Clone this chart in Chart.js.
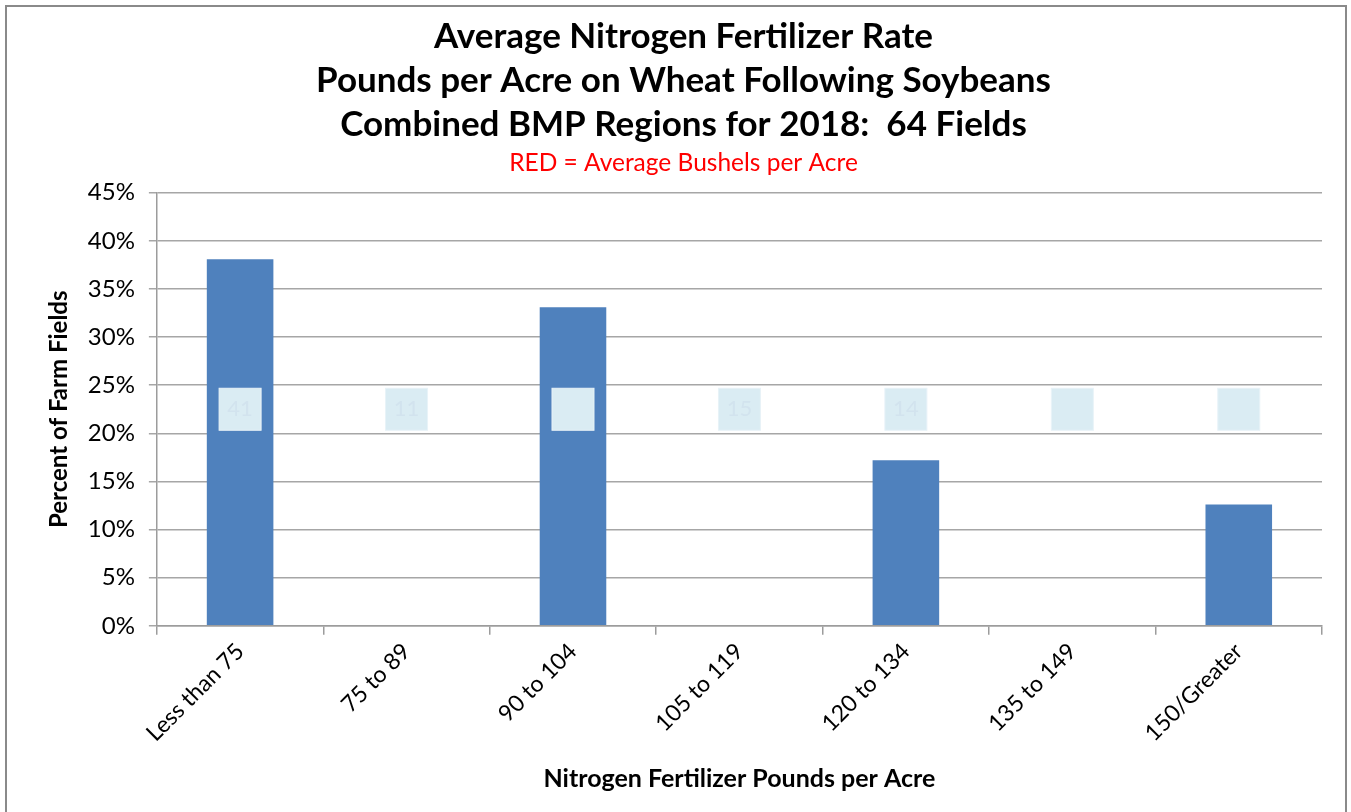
<!DOCTYPE html>
<html>
<head>
<meta charset="utf-8">
<script src="https://cdn.jsdelivr.net/npm/chart.js@4"></script>
<style>
  body { margin: 0; background: #fff; }
  #frame { position: absolute; left: 5px; top: 5px; width: 1338px; height: 805px; border: 2px solid #8a8a8a; border-bottom: none; }
  #wrap { position: absolute; left: 0; top: 0; width: 1351px; height: 812px; }
</style>
</head>
<body>
<div id="frame"></div>
<div id="wrap"><canvas id="chart" width="1351" height="812"></canvas></div>
<script>
// categories (nitrogen rate ranges)
const categories = ["Less than 75", "75 to 89", "90 to 104", "105 to 119", "120 to 134", "135 to 149", "150/Greater"];
// percent of farm fields
const percentFields = [38.1, 0, 33.1, 0, 17.2, 0, 12.6];
// average bushels per acre (labels are barely readable in the source)
const bushelLabels = ["41", "11", "", "15", "14", "", ""];
const labelLevel = 22.5;
const yTicks = [0, 5, 10, 15, 20, 25, 30, 35, 40, 45];

const font = "Lato, 'Open Sans', sans-serif";

//draws the pale label boxes in the middle of every category
const boxPlugin = {
  id: "boxes",
  afterDatasetsDraw(chart) {
    const ctx = chart.ctx;
    const xs = chart.scales.x, ys = chart.scales.y;
    const cy = ys.getPixelForValue(labelLevel);
    ctx.save();
    bushelLabels.forEach((txt, i) => {
      const cx = xs.getPixelForValue(i);
      ctx.fillStyle = "#daecf3";
      ctx.strokeStyle = "#e8f3f8";
      ctx.lineWidth = 1;
      ctx.fillRect(cx - 21, cy - 21, 42, 42);
      ctx.strokeRect(cx - 21, cy - 21, 42, 42);
      if (txt) {
        ctx.fillStyle = "#d2e3ee";
        ctx.font = "22px " + font;
        ctx.textAlign = "center";
        ctx.textBaseline = "middle";
        ctx.fillText(txt, cx, cy);
      }
    });
    ctx.restore();
  }
};

new Chart(document.getElementById("chart"), {
  type: "bar",
  plugins: [boxPlugin],
  data: {
    labels: categories,
    datasets: [{
      data: percentFields,
      backgroundColor: "#4f81bd",
      borderWidth: 0,
      barPercentage: 0.4,
      categoryPercentage: 1
    }]
  },
  options: {
    responsive: false,
    animation: false,
    layout: { padding: { left: 45, right: 29, top: 14, bottom: 18 } },
    plugins: {
      legend: { display: false },
      tooltip: { enabled: false },
      title: {
        display: true,
        text: ["Average Nitrogen Fertilizer Rate", "Pounds per Acre on Wheat Following Soybeans", "Combined BMP Regions for 2018:  64 Fields"],
        color: "#000",
        font: { family: font, size: 35, weight: "bold", lineHeight: 1.27 },
        padding: { top: 0, bottom: 0 }
      },
      subtitle: {
        display: true,
        text: "RED = Average Bushels per Acre",
        color: "#ff0000",
        font: { family: font, size: 24.5 },
        padding: { top: 1, bottom: 15 }
      }
    },
    scales: {
      x: {
        grid: { offset: true, drawOnChartArea: false, color: "#9c9c9c", lineWidth: 1.5, tickLength: 9 },
        border: { color: "#9c9c9c", width: 1.5 },
        ticks: { color: "#000", maxRotation: 45, minRotation: 45, font: { family: font, size: 23 } },
        title: { display: true, text: "Nitrogen Fertilizer Pounds per Acre", color: "#000", font: { family: font, size: 25, weight: "bold" }, padding: { top: 14, bottom: 0 } }
      },
      y: {
        min: 0,
        max: 45,
        afterBuildTicks: (axis) => { axis.ticks = yTicks.map(v => ({ value: v })); },
        grid: { color: "#a6a6a6", lineWidth: 1.5, tickLength: 8 },
        border: { color: "#9c9c9c", width: 1.5 },
        ticks: { color: "#000", padding: 14, font: { family: font, size: 24 }, callback: v => v + "%" },
        title: { display: true, text: "Percent of Farm Fields", color: "#000", font: { family: font, size: 24, weight: "bold" }, padding: { top: 0, bottom: 0 } }
      }
    }
  }
});
</script>
</body>
</html>
